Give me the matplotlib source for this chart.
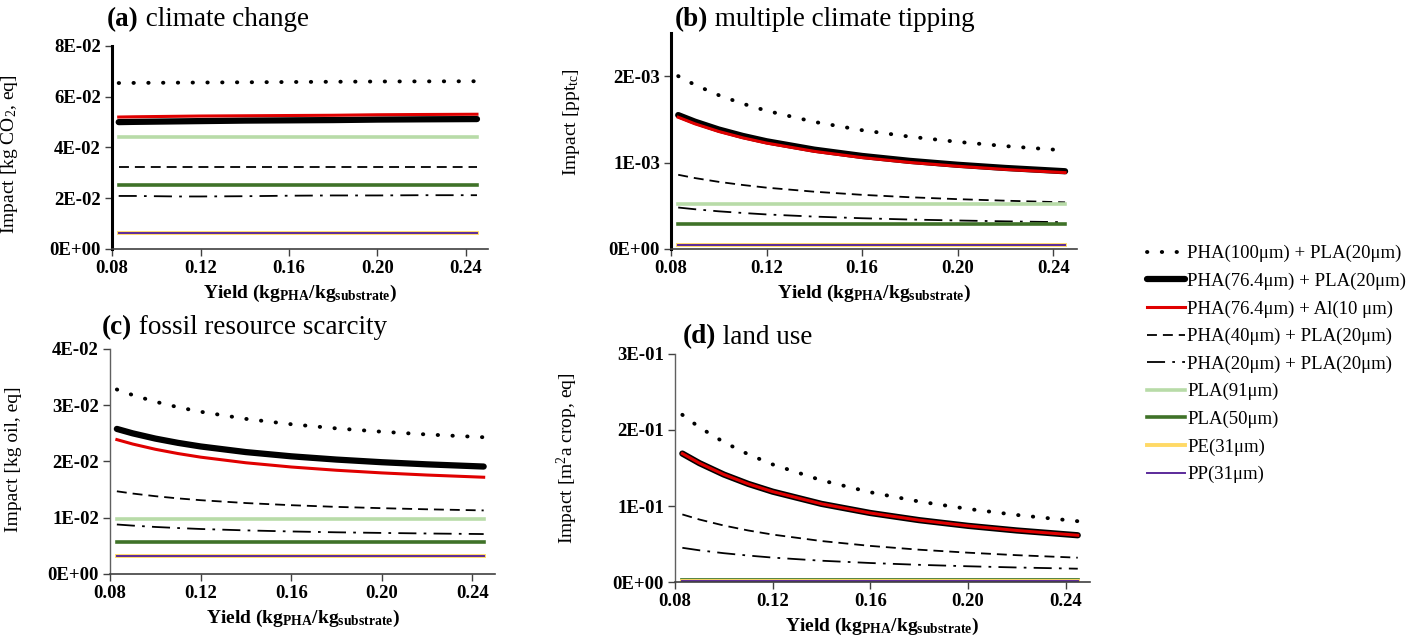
import numpy as np
import matplotlib
matplotlib.use("Agg")
import matplotlib.pyplot as plt
from matplotlib.ticker import FuncFormatter

plt.rcParams['font.family'] = ['Liberation Serif', 'DejaVu Serif']
plt.rcParams['mathtext.fontset'] = 'custom'
plt.rcParams['mathtext.rm'] = 'Liberation Serif'
plt.rcParams['mathtext.it'] = 'Liberation Serif:italic'
plt.rcParams['mathtext.bf'] = 'Liberation Serif:bold'

# yield values (kg PHA / kg substrate)
yields = [0.083, 0.09, 0.10, 0.11, 0.12, 0.14, 0.16, 0.18, 0.20, 0.22, 0.245]

labels = ['PHA(100\u03bcm) + PLA(20\u03bcm)', 'PHA(76.4\u03bcm) + PLA(20\u03bcm)',
          'PHA(76.4\u03bcm) + Al(10 \u03bcm)', 'PHA(40\u03bcm) + PLA(20\u03bcm)',
          'PHA(20\u03bcm) + PLA(20\u03bcm)', 'PLA(91\u03bcm)', 'PLA(50\u03bcm)',
          'PE(31\u03bcm)', 'PP(31\u03bcm)']

# (a) climate change, kg CO2 eq (x1E-02)
cc_pha100 = [6.54, 6.545, 6.55, 6.555, 6.56, 6.57, 6.58, 6.59, 6.60, 6.605, 6.61]
cc_pha76 = [5.00, 5.01, 5.02, 5.03, 5.04, 5.06, 5.07, 5.08, 5.10, 5.11, 5.12]
cc_al = [5.20, 5.21, 5.22, 5.23, 5.24, 5.25, 5.26, 5.27, 5.29, 5.30, 5.31]
cc_pha40 = [3.22] * 11
cc_pha20 = [2.09, 2.09, 2.08, 2.07, 2.07, 2.08, 2.10, 2.11, 2.11, 2.12, 2.12]
cc_pla91 = [4.41] * 11
cc_pla50 = [2.51] * 11
cc_pe = [0.63] * 11
cc_pp = [0.62] * 11

# (b) multiple climate tipping, ppt_tc (x1E-03)
mt_pha100 = [2.001, 1.900, 1.780, 1.682, 1.600, 1.471, 1.375, 1.300, 1.240, 1.191, 1.141]
mt_pha76 = [1.550, 1.474, 1.383, 1.309, 1.247, 1.150, 1.077, 1.020, 0.975, 0.938, 0.900]
mt_al = [1.525, 1.449, 1.360, 1.287, 1.226, 1.130, 1.058, 1.002, 0.958, 0.921, 0.884]
mt_pha40 = [0.859, 0.821, 0.777, 0.741, 0.710, 0.663, 0.627, 0.599, 0.577, 0.559, 0.540]
mt_pha20 = [0.480, 0.460, 0.436, 0.417, 0.400, 0.375, 0.356, 0.341, 0.330, 0.320, 0.310]
mt_pla91 = [0.52] * 11
mt_pla50 = [0.29] * 11
mt_pe = [0.045] * 11
mt_pp = [0.043] * 11

# (c) fossil resource scarcity, kg oil eq (x1E-02)
fs_pha100 = [3.280, 3.181, 3.062, 2.965, 2.884, 2.757, 2.662, 2.588, 2.529, 2.480, 2.431]
fs_pha76 = [2.579, 2.500, 2.407, 2.331, 2.267, 2.167, 2.092, 2.034, 1.987, 1.949, 1.910]
fs_al = [2.389, 2.310, 2.217, 2.141, 2.077, 1.977, 1.902, 1.844, 1.797, 1.759, 1.720]
fs_pha40 = [1.470, 1.430, 1.383, 1.344, 1.312, 1.261, 1.223, 1.193, 1.170, 1.150, 1.130]
fs_pha20 = [0.880, 0.860, 0.836, 0.817, 0.800, 0.775, 0.756, 0.741, 0.730, 0.720, 0.710]
fs_pla91 = [0.98] * 11
fs_pla50 = [0.56] * 11
fs_pe = [0.32] * 11
fs_pp = [0.315] * 11

# (d) land use, m2a crop eq (x1E-01)
lu_pha100 = [2.200, 2.035, 1.840, 1.680, 1.547, 1.338, 1.181, 1.059, 0.962, 0.882, 0.800]
lu_pha76 = [1.690, 1.564, 1.414, 1.291, 1.189, 1.028, 0.908, 0.814, 0.739, 0.678, 0.615]
lu_al = [1.690, 1.564, 1.414, 1.291, 1.189, 1.028, 0.908, 0.814, 0.739, 0.678, 0.615]
lu_pha40 = [0.889, 0.822, 0.743, 0.678, 0.624, 0.539, 0.475, 0.425, 0.386, 0.353, 0.320]
lu_pha20 = [0.450, 0.417, 0.379, 0.348, 0.321, 0.280, 0.250, 0.226, 0.207, 0.191, 0.175]
lu_pla91 = [0.03] * 11
lu_pla50 = [0.02] * 11
lu_pe = [0.01] * 11
lu_pp = [0.008] * 11

styles = [
    dict(color='black', lw=2.8, ls=(0, (0.1, 3.7)), dash_capstyle='round'),
    dict(color='black', lw=4.5, ls='-', solid_capstyle='round'),
    dict(color='#e00000', lw=2.2, ls='-'),
    dict(color='black', lw=1.3, ls=(0, (5.5, 3.3))),
    dict(color='black', lw=1.3, ls=(0, (10, 4, 1.5, 4))),
    dict(color='#b8dba8', lw=2.6, ls='-'),
    dict(color='#3f7228', lw=2.6, ls='-'),
    dict(color='#ffd966', lw=2.8, ls='-'),
    dict(color='#5b2a9a', lw=1.4, ls='-'),
]

panels = [
    dict(rect=[0.0788, 0.6085, 0.2644, 0.3192], scale=1e-2, ylim=0.08, yticks=[0, 0.02, 0.04, 0.06, 0.08],
         series=[cc_pha100, cc_pha76, cc_al, cc_pha40, cc_pha20, cc_pla91, cc_pla50, cc_pe, cc_pp],
         ylabel=r'Impact [kg CO$_2$, eq]', ylx=-0.245, yly=0.468, thick=True,
         title=('(a)', ' climate change'), tpos=(107, 20)),
    dict(rect=[0.4719, 0.6085, 0.2855, 0.3396], scale=1e-3, ylim=0.0025, yticks=[0, 0.001, 0.002],
         series=[mt_pha100, mt_pha76, mt_al, mt_pha40, mt_pha20, mt_pla91, mt_pla50, mt_pe, mt_pp],
         ylabel=r'Impact [ppt$_{\mathrm{tc}}$]', ylx=-0.219, yly=0.588, thick=True,
         title=('(b)', ' multiple climate tipping'), tpos=(675, 20)),
    dict(rect=[0.0774, 0.0975, 0.2707, 0.3538], scale=1e-2, ylim=0.04, yticks=[0, 0.01, 0.02, 0.03, 0.04],
         series=[fs_pha100, fs_pha76, fs_al, fs_pha40, fs_pha20, fs_pla91, fs_pla50, fs_pe, fs_pp],
         ylabel=r'Impact [kg oil, eq]', ylx=-0.229, yly=0.511, thick=False,
         title=('(c)', ' fossil resource scarcity'), tpos=(102, 328)),
    dict(rect=[0.4747, 0.0849, 0.2918, 0.3585], scale=1e-1, ylim=0.3, yticks=[0, 0.1, 0.2, 0.3],
         series=[lu_pha100, lu_pha76, lu_al, lu_pha40, lu_pha20, lu_pla91, lu_pla50, lu_pe, lu_pp],
         ylabel=r'Impact [m$^2$a crop, eq]', ylx=-0.229, yly=0.544, thick=False,
         title=('(d)', ' land use'), tpos=(683, 337)),
]

W, H = 1422, 636
fig = plt.figure(figsize=(W / 100, H / 100), dpi=100)
fmt = FuncFormatter(lambda v, p: f'{v:.0E}')
handles = []

for p in panels:
    ax = fig.add_axes(p['rect'])
    hs = []
    for vals, st in zip(p['series'], styles):
        st = dict(st)
        ls = st.pop('ls')
        h, = ax.plot(yields, np.array(vals) * p['scale'], linestyle=ls, **st)
        hs.append(h)
    if not handles:
        handles = hs
    ax.set_xlim(0.08, 0.25)
    ax.set_ylim(0, p['ylim'])
    ax.set_xticks([0.08, 0.12, 0.16, 0.20, 0.24])
    ax.set_xticklabels(['0.08', '0.12', '0.16', '0.20', '0.24'])
    ax.set_yticks(p['yticks'])
    ax.yaxis.set_major_formatter(fmt)
    for s in ['top', 'right']:
        ax.spines[s].set_visible(False)
    ax.spines['bottom'].set_color('#404040')
    ax.spines['bottom'].set_linewidth(1.2)
    if p['thick']:
        ax.spines['left'].set_linewidth(2.2)
        ax.spines['left'].set_color('black')
    else:
        ax.spines['left'].set_linewidth(1.0)
        ax.spines['left'].set_color('#606060')
    ax.tick_params(direction='out', length=5, width=1, color='#404040', labelsize=13.5, pad=3)
    for t in ax.get_xticklabels() + ax.get_yticklabels():
        t.set_fontweight('bold')
    ax.set_xlabel(r'Yield (kg$_{\mathbf{PHA}}$/kg$_{\mathbf{substrate}}$)', fontsize=14,
                  fontweight='bold', labelpad=4)
    ax.set_ylabel(p['ylabel'], fontsize=14)
    ax.yaxis.set_label_coords(p['ylx'], p['yly'])

    # panel title: bold letter + normal text
    r = fig.canvas.get_renderer()
    tx, ty = p['tpos']
    t1 = fig.text(tx / W, 1 - ty / H, p['title'][0], fontsize=19.5, fontweight='bold', va='center')
    bb = t1.get_window_extent(renderer=r)
    fig.text(bb.x1 / W, 1 - ty / H, p['title'][1], fontsize=19.5, va='center')

fig.legend(handles, labels, loc='upper left', bbox_to_anchor=(1147 / W, 1 - 245 / H),
           frameon=False, fontsize=13.5, handlelength=2.0, handletextpad=0.15,
           labelspacing=0.55, borderpad=0, borderaxespad=0)

fig.savefig('out.png', dpi=100)
